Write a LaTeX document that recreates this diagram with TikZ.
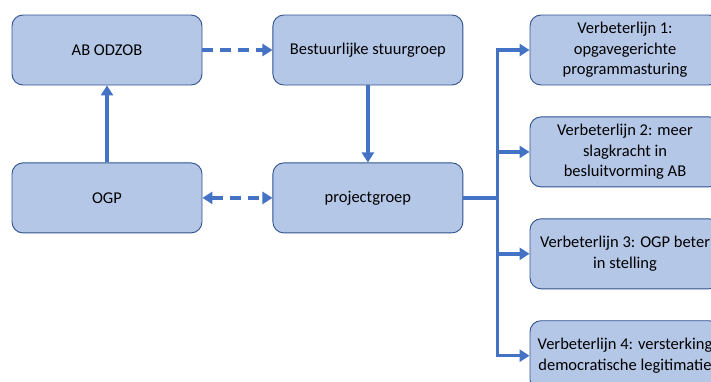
\documentclass[tikz,border=0pt]{standalone}
\usepackage{fontspec}
\setmainfont{Carlito}
\usetikzlibrary{arrows.meta,chains,positioning}

\definecolor{boxfill}{HTML}{B4C7E7}
\definecolor{boxline}{HTML}{2F528F}
\definecolor{linkblue}{HTML}{4472C4}

\begin{document}
\begin{tikzpicture}[
  x=1pt,y=1pt,
  node distance=77pt and 70pt,
  font=\fontsize{16.5}{20.5}\selectfont,
  block/.style={draw=boxline,fill=boxfill,line width=0.9pt,rounded corners=11pt,
    minimum width=190pt,minimum height=70pt,inner sep=2pt,align=center},
  link/.style={draw=linkblue,line width=3.4pt,-{Triangle[length=10pt,width=12pt]}},
  dashlink/.style={link,dash pattern=on 11pt off 7pt}
]
  \clip (0,0) rectangle (711,-381);

  \node[block] (ab-odzob) at (107,-50) {AB ODZOB};
  \node[block,right=of ab-odzob] (stuurgroep) {Bestuurlijke stuurgroep};
  \node[block,below=of ab-odzob] (ogp) {OGP};
  \node[block,below=of stuurgroep] (projectgroep) {projectgroep};

  \begin{scope}[start chain=lijnen going below,node distance=31pt]
    \node[block,on chain] (lijn-1) at (625,-50)
      {Verbeterlijn 1:\\opgavegerichte\\programmasturing};
    \node[block,on chain] (lijn-2) {Verbeterlijn 2: meer\\slagkracht in\\besluitvorming AB};
    \node[block,on chain] (lijn-3) {Verbeterlijn 3: OGP beter\\in stelling};
    \node[block,on chain] (lijn-4) {Verbeterlijn 4: versterking\\democratische legitimatie};
  \end{scope}

  \draw[dashlink] (ab-odzob) -- (stuurgroep);
  \draw[link] (ogp) -- (ab-odzob);
  \draw[link] (stuurgroep) -- (projectgroep);
  \draw[dashlink,{Triangle[length=10pt,width=12pt]}-{Triangle[length=10pt,width=12pt]}] (ogp) -- (projectgroep);

  % splitsing naar de verbeterlijnen
  \coordinate[right=34pt of projectgroep.east] (split);
  \draw[draw=linkblue,line width=4pt] (projectgroep.east) -- (split);
  \foreach \i in {1,...,4}
    \draw[link] (split) |- (lijn-\i.west);
\end{tikzpicture}
\end{document}
